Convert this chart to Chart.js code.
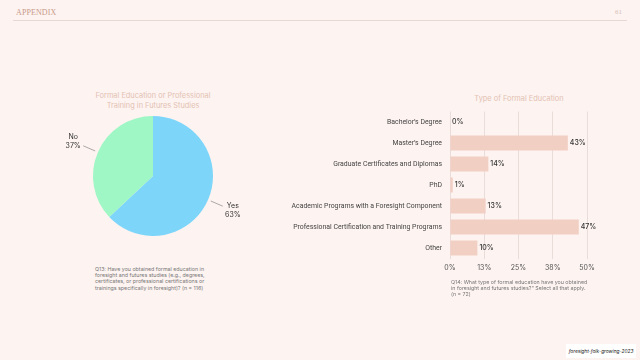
<!DOCTYPE html>
<html>
<head>
<meta charset="utf-8">
<script src="https://cdn.jsdelivr.net/npm/chart.js@4.4.1/dist/chart.umd.min.js"></script>
<style>
  html, body { margin: 0; padding: 0; }
  body { width: 640px; height: 360px; background: #fdf3f1; position: relative; overflow: hidden; font-family: 'Inter', sans-serif; }
  .abs { position: absolute; }
  #header { left: 16px; top: 8px; font-family: 'Liberation Serif', serif; font-size: 8px; color: #c99a8a; letter-spacing: 0.1px; }
  #pageno { right: 18px; top: 8px; font-family: 'Liberation Serif', serif; font-size: 7px; color: #d6c0b8; }
  #rule { left: 13px; top: 20px; width: 614px; height: 1px; background: #e8d8d4; }
  .title { font-size: 7.4px; color: #e3c2b2; text-align: center; line-height: 10px; }
  .caption { font-size: 5.3px; color: #777; line-height: 6.2px; }
  #footer { left: 566px; top: 344px; width: 70px; height: 14px; background: #ffffff; font-size: 4.8px; font-style: italic; color: #222; line-height: 14px; text-align: center; white-space: nowrap; }
</style>
</head>
<body>
<div id="header" class="abs">APPENDIX</div>
<div id="pageno" class="abs">61</div>
<div id="rule" class="abs"></div>

<div class="abs title" style="left:73px; top:91px; width:160px;">Formal Education or Professional<br>Training in Futures Studies</div>
<div class="abs" style="left:33px; top:111px; width:240px; height:130px;"><canvas id="pieChart"></canvas></div>
<div class="abs caption" style="left:95px; top:266px; width:120px;">Q13: Have you obtained formal education in foresight and futures studies (e.g., degrees, certificates, or professional certifications or trainings specifically in foresight)? (n = 116)</div>

<div class="abs title" style="left:440px; top:94px; width:158px;">Type of Formal Education</div>
<div class="abs" style="left:250px; top:100px; width:360px; height:172px;"><canvas id="barChart"></canvas></div>
<div class="abs caption" style="left:451px; top:279px; width:140px;">Q14: What type of formal education have you obtained in foresight and futures studies?" Select all that apply. (n = 72)</div>

<div id="footer" class="abs">foresight-folk-growing-2023</div>

<script>
  // Pie data
  const pieLabels = ['Yes', 'No'];
  const pieValues = [63, 37];
  const pieColors = ['#7dd6fa', '#9ef7c4'];

  // Bar data
  const barLabels = [
    'Bachelor\u2019s Degree',
    'Master\u2019s Degree',
    'Graduate Certificates and Diplomas',
    'PhD',
    'Academic Programs with a Foresight Component',
    'Professional Certification and Training Programs',
    'Other'
  ];
  const barValues = [0, 43, 14, 1, 13, 47, 10];
  const xTickLabels = ['0%', '13%', '25%', '38%', '50%'];

  const textColor = '#333';

  // Outside labels with leader lines for the pie
  const pieLabelPlugin = {
    id: 'pieLabels',
    afterDatasetsDraw(chart) {
      const ctx = chart.ctx;
      const meta = chart.getDatasetMeta(0);
      ctx.save();
      ctx.font = '7px Inter, sans-serif';
      ctx.fillStyle = textColor;
      ctx.strokeStyle = '#888';
      ctx.lineWidth = 0.7;
      meta.data.forEach((arc, i) => {
        const mid = (arc.startAngle + arc.endAngle) / 2;
        const r = arc.outerRadius;
        const cos = Math.cos(mid), sin = Math.sin(mid);
        ctx.beginPath();
        ctx.moveTo(arc.x + cos * (r + 3), arc.y + sin * (r + 3));
        ctx.lineTo(arc.x + cos * (r + 16), arc.y + sin * (r + 16));
        ctx.stroke();
        const tx = arc.x + cos * (r + 27);
        const ty = arc.y + sin * (r + 27);
        ctx.textAlign = 'center';
        ctx.textBaseline = 'middle';
        ctx.fillText(pieLabels[i], tx, ty - 4.5);
        ctx.fillText(pieValues[i] + '%', tx, ty + 4.5);
      });
      ctx.restore();
    }
  };

  new Chart(document.getElementById('pieChart'), {
    type: 'pie',
    data: {
      labels: pieLabels,
      datasets: [{
        data: pieValues,
        backgroundColor: pieColors,
        borderWidth: 0
      }]
    },
    options: {
      responsive: true,
      maintainAspectRatio: false,
      animation: false,
      layout: { padding: { top: 5, bottom: 5, left: 35, right: 35 } },
      plugins: { legend: { display: false }, tooltip: { enabled: false } }
    },
    plugins: [pieLabelPlugin]
  });

  // Value labels after each bar
  const barValuePlugin = {
    id: 'barValues',
    afterDatasetsDraw(chart) {
      const ctx = chart.ctx;
      const meta = chart.getDatasetMeta(0);
      ctx.save();
      ctx.font = '500 7px Inter, sans-serif';
      ctx.fillStyle = textColor;
      ctx.textAlign = 'left';
      ctx.textBaseline = 'middle';
      meta.data.forEach((bar, i) => {
        ctx.fillText(barValues[i] + '%', bar.x + 2, bar.y);
      });
      ctx.restore();
    }
  };

  new Chart(document.getElementById('barChart'), {
    type: 'bar',
    data: {
      labels: barLabels,
      datasets: [{
        data: barValues,
        backgroundColor: '#f1cfc3',
        borderWidth: 0,
        barPercentage: 0.95,
        categoryPercentage: 0.75
      }]
    },
    options: {
      indexAxis: 'y',
      responsive: true,
      maintainAspectRatio: false,
      animation: false,
      layout: { padding: { top: 11.5, bottom: 0, left: 0, right: 23 } },
      plugins: { legend: { display: false }, tooltip: { enabled: false } },
      scales: {
        x: {
          min: 0,
          max: 50,
          afterBuildTicks: (s) => { s.ticks = [0, 12.5, 25, 37.5, 50].map(v => ({ value: v })); },
          afterFit: (s) => { s.height = 13.5; },
          ticks: {
            font: { family: 'Inter', size: 7 },
            color: '#555',
            padding: 5,
            maxRotation: 0,
            callback: (v, i) => xTickLabels[i]
          },
          grid: { color: '#e4d6d2', lineWidth: 0.8, drawTicks: false },
          border: { display: false }
        },
        y: {
          afterFit: (s) => { s.width = 200; },
          ticks: {
            font: { family: 'Roboto', size: 6.9 },
            color: '#444',
            padding: 0
          },
          grid: { display: false },
          border: { display: false }
        }
      }
    },
    plugins: [barValuePlugin]
  });
</script>
</body>
</html>
